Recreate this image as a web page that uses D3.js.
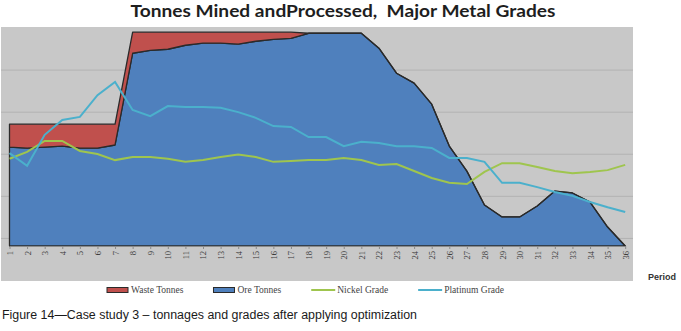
<!DOCTYPE html>
<html>
<head>
<meta charset="utf-8">
<script src="https://cdn.jsdelivr.net/npm/d3@7/dist/d3.min.js"></script>
<style>
  body { margin: 0; background: #fff; }
  svg { display: block; }
</style>
</head>
<body>
<div id="chart"></div>
<script>
// values (tonnes in kt, grades in g/t)
const periods = d3.range(1, 37);
const oreTonnes = [2350, 2325, 2350, 2375, 2325, 2325, 2400, 4580, 4650, 4675,
                   4770, 4820, 4820, 4795, 4865, 4910, 4935, 5055, 5055, 5055,
                   5055, 4700, 4105, 3870, 3370, 2375, 1780, 975, 690, 690,
                   950, 1305, 1260, 1045, 450, 0];
const wasteTonnes = [545, 570, 545, 520, 570, 570, 495, 500, 430, 405,
                     310, 260, 260, 285, 215, 170, 145, 0, 0, 0,
                     0, 0, 0, 0, 0, 0, 0, 0, 0, 0,
                     0, 0, 0, 0, 0, 0];
const nickelGrade = [2.00, 2.16, 2.41, 2.41, 2.18, 2.11, 1.97, 2.04, 2.04, 2.00,
                     1.93, 1.97, 2.04, 2.10, 2.04, 1.93, 1.95, 1.97, 1.97, 2.02,
                     1.97, 1.86, 1.88, 1.72, 1.56, 1.45, 1.42, 1.70, 1.90, 1.90,
                     1.81, 1.72, 1.67, 1.70, 1.74, 1.86];
const platinumGrade = [2.13, 1.84, 2.55, 2.89, 2.96, 3.46, 3.76, 3.12, 2.98, 3.21,
                       3.19, 3.19, 3.17, 3.07, 2.94, 2.75, 2.73, 2.50, 2.50, 2.29,
                       2.39, 2.36, 2.29, 2.29, 2.25, 2.02, 2.02, 1.93, 1.45, 1.45,
                       1.35, 1.24, 1.15, 1.01, 0.89, 0.78];
const gridValues = [180, 1180, 2180, 3180, 4180];
const legendNames = ["Waste Tonnes", "Ore Tonnes", "Nickel Grade", "Platinum Grade"];

const width = 681, height = 331;
const colors = { waste: "#c0504d", ore: "#4f80bd", nickel: "#9fc54e", platinum: "#4bb0cc" };

const svg = d3.select("#chart").append("svg")
  .attr("width", width).attr("height", height);

// grey chart panel
svg.append("rect")
  .attr("x", 1).attr("y", 27).attr("width", 632).attr("height", 254)
  .attr("fill", "#c8c8c8");

const x = d3.scalePoint().domain(periods).range([9.5, 625.2]);
const y = d3.scaleLinear().domain([0, 5180]).range([246, 28]);
const yGrade = d3.scaleLinear().domain([0, 5]).range([246, 28]);

svg.append("g").selectAll("line")
  .data(gridValues)
  .join("line")
  .attr("x1", 1).attr("x2", 633)
  .attr("y1", d => y(d)).attr("y2", d => y(d))
  .attr("stroke", "#b2b2b2").attr("stroke-width", 1);

const rows = periods.map((p, i) => ({ period: p, ore: oreTonnes[i], waste: wasteTonnes[i] }));
const stacked = d3.stack().keys(["ore", "waste"])(rows);

const area = d3.area()
  .x(d => x(d.data.period))
  .y0(d => y(d[0]))
  .y1(d => y(d[1]));

svg.append("g").selectAll("path")
  .data(stacked)
  .join("path")
  .attr("d", area)
  .attr("fill", d => colors[d.key])
  .attr("stroke", "#2a2a2a")
  .attr("stroke-width", 1.3)
  .attr("stroke-linejoin", "round");

const line = vals => d3.line()
  .x((d, i) => x(periods[i]))
  .y(d => yGrade(d))(vals);

svg.append("path").attr("d", line(nickelGrade))
  .attr("fill", "none").attr("stroke", colors.nickel).attr("stroke-width", 2);
svg.append("path").attr("d", line(platinumGrade))
  .attr("fill", "none").attr("stroke", colors.platinum).attr("stroke-width", 2);

// x axis
const xAxis = svg.append("g")
  .attr("transform", "translate(0,246)")
  .call(d3.axisBottom(x).tickSize(3).tickSizeOuter(0));
xAxis.select(".domain").attr("stroke", "#8a8a8a");
xAxis.selectAll(".tick line").attr("stroke", "#8a8a8a");
xAxis.selectAll(".tick text")
  .attr("transform", "rotate(-90)")
  .attr("x", -5).attr("y", 0).attr("dy", "0.35em")
  .attr("text-anchor", "end")
  .attr("fill", "#3a3a3a")
  .style("font", "8.5px 'Liberation Serif', serif");

svg.append("text")
  .attr("x", 648).attr("y", 280)
  .attr("fill", "#333")
  .style("font", "bold 9px 'Liberation Sans', Arial, sans-serif")
  .text("Period");

// title
svg.append("text")
  .attr("x", 343).attr("y", 17)
  .attr("text-anchor", "middle")
  .attr("textLength", 425).attr("lengthAdjust", "spacingAndGlyphs")
  .attr("fill", "#1e1e1e")
  .style("font", "bold 17px Lato, 'Open Sans', sans-serif")
  .style("white-space", "pre")
  .text("Tonnes Mined andProcessed,  Major Metal Grades");

// legend
const legend = svg.append("g").attr("transform", "translate(107,290)");
let lx = 0;
legendNames.forEach((name, i) => {
  const g = legend.append("g").attr("transform", `translate(${lx},0)`);
  if (i < 2) {
    g.append("rect").attr("x", 0).attr("y", -2.5).attr("width", 21).attr("height", 5)
      .attr("fill", i === 0 ? colors.waste : colors.ore)
      .attr("stroke", "#2a2a2a").attr("stroke-width", 1);
  } else {
    g.append("line").attr("x1", 0).attr("x2", 24).attr("y1", 0).attr("y2", 0)
      .attr("stroke", i === 2 ? colors.nickel : colors.platinum).attr("stroke-width", 2);
  }
  const t = g.append("text")
    .attr("x", i < 2 ? 24 : 26).attr("y", 0).attr("dy", "0.35em")
    .attr("fill", "#444")
    .style("font", "9.5px 'Liberation Serif', serif")
    .text(name);
  lx += (i < 2 ? 24 : 26) + t.node().getComputedTextLength() + 30;
});

// caption
svg.append("text")
  .attr("x", 2).attr("y", 319)
  .attr("textLength", 415).attr("lengthAdjust", "spacingAndGlyphs")
  .attr("fill", "#1a1a1a")
  .style("font", "500 12.5px 'Liberation Sans Narrow', 'Arial Narrow', 'Liberation Sans', sans-serif")
  .text("Figure 14\u2014Case study 3 \u2013 tonnages and grades after applying optimization");
</script>
</body>
</html>
